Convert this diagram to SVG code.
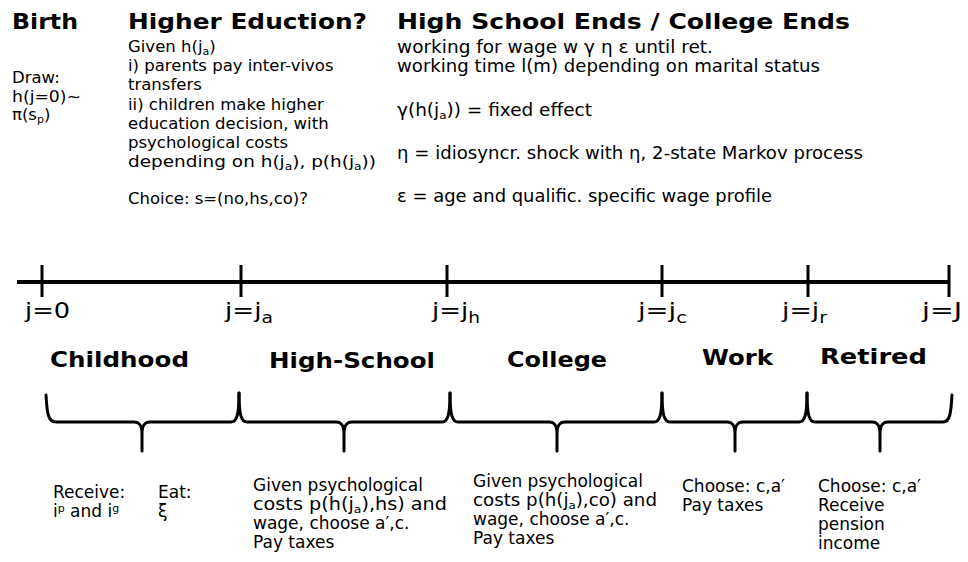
<svg xmlns="http://www.w3.org/2000/svg" width="968" height="562" viewBox="0 0 968 562">
<style>
text{font-family:"DejaVu Sans",Verdana,sans-serif;fill:#000}
.h{font-weight:bold;font-size:22px}
.t{font-size:16.5px}
.r{font-size:17px}
.b{font-size:17px}
.j{font-size:21px}
.s{font-size:11px}
.sj{font-size:15px}
.axis{stroke:#000;stroke-width:4;fill:none}
.tick{stroke:#000;stroke-width:3;fill:none}
.brace{stroke:#000;stroke-width:3;fill:none;stroke-linejoin:round;stroke-linecap:round}
</style>
<rect width="968" height="562" fill="#fff"/>

<g id="birth">
<text class="h" x="12" y="29" textLength="66" lengthAdjust="spacingAndGlyphs">Birth</text>
<text class="t" x="12" y="83">Draw:</text>
<text class="t" x="12" y="102" textLength="69" lengthAdjust="spacingAndGlyphs">h(j=0)~</text>
<text class="t" x="12" y="120">π(s<tspan class="s" dy="3">p</tspan><tspan dy="-3">)</tspan></text>
</g>

<g id="higher-education">
<text class="h" x="128" y="29" textLength="239" lengthAdjust="spacingAndGlyphs">Higher Eduction?</text>
<text class="t" x="128" y="52">Given h(j<tspan class="s" dy="3">a</tspan><tspan dy="-3">)</tspan></text>
<text class="t" x="128" y="71">i) parents pay inter-vivos</text>
<text class="t" x="128" y="90">transfers</text>
<text class="t" x="128" y="110">ii) children make higher</text>
<text class="t" x="128" y="129">education decision, with</text>
<text class="t" x="128" y="148">psychological costs</text>
<text class="t" x="128" y="167" textLength="248" lengthAdjust="spacingAndGlyphs">depending on h(j<tspan class="s" dy="3">a</tspan><tspan dy="-3">), p(h(j</tspan><tspan class="s" dy="3">a</tspan><tspan dy="-3">))</tspan></text>
<text class="t" x="128" y="204">Choice: s=(no,hs,co)?</text>
</g>

<g id="work-begins">
<text class="h" x="397" y="29" textLength="453" lengthAdjust="spacingAndGlyphs">High School Ends / College Ends</text>
<text class="r" x="397" y="53" textLength="316" lengthAdjust="spacingAndGlyphs">working for wage w γ η ε until ret.</text>
<text class="r" x="397" y="72" textLength="423" lengthAdjust="spacingAndGlyphs">working time l(m) depending on marital status</text>
<text class="r" x="397" y="116" textLength="195" lengthAdjust="spacingAndGlyphs">γ(h(j<tspan class="s" dy="3">a</tspan><tspan dy="-3">)) = fixed effect</tspan></text>
<text class="r" x="397" y="159" textLength="466" lengthAdjust="spacingAndGlyphs">η = idiosyncr. shock with η, 2-state Markov process</text>
<text class="r" x="397" y="202" textLength="375" lengthAdjust="spacingAndGlyphs">ε = age and qualific. specific wage profile</text>
</g>

<g id="connectors">
<path class="axis" d="M17,282 L949,282"/>
<path class="tick" d="M42,265 V297 M241,265 V297 M447,265 V297 M662,265 V297 M808,265 V297 M949,265 V297"/>
</g>

<g id="ages">
<text class="j" x="25" y="318" textLength="45" lengthAdjust="spacingAndGlyphs">j=0</text>
<text class="j" x="225" y="318" textLength="48" lengthAdjust="spacingAndGlyphs">j=j<tspan class="sj" dy="5">a</tspan></text>
<text class="j" x="432" y="318" textLength="48" lengthAdjust="spacingAndGlyphs">j=j<tspan class="sj" dy="5">h</tspan></text>
<text class="j" x="638" y="318" textLength="49" lengthAdjust="spacingAndGlyphs">j=j<tspan class="sj" dy="5">c</tspan></text>
<text class="j" x="782" y="318" textLength="45" lengthAdjust="spacingAndGlyphs">j=j<tspan class="sj" dy="5">r</tspan></text>
<text class="j" x="922" y="318" textLength="40" lengthAdjust="spacingAndGlyphs">j=J</text>
</g>

<g id="childhood">
<text class="h" x="50" y="367" textLength="139" lengthAdjust="spacingAndGlyphs">Childhood</text>
<path class="brace" d="M46,395 C47,413 48,422 56,422 L134,422 C140,422 142,426 142,434 L142,451 M142,434 C142,426 144,422 150,422 L231,422 C237,422 239,414 239,393"/>
<text class="b" x="53" y="498">Receive:</text>
<text class="b" x="53" y="517">i<tspan class="s" dy="-5">p</tspan><tspan dy="5"> and i</tspan><tspan class="s" dy="-5">g</tspan></text>
<text class="b" x="158" y="498">Eat:</text>
<text class="b" x="158" y="517">ξ</text>
</g>

<g id="high-school">
<text class="h" x="269" y="368" textLength="166" lengthAdjust="spacingAndGlyphs">High-School</text>
<path class="brace" d="M239,393 C239,414 241,422 247,422 L336,422 C342,422 344,426 344,434 L344,451 M344,434 C344,426 346,422 352,422 L442,422 C448,422 450,414 450,393"/>
<text class="b" x="253" y="491">Given psychological</text>
<text class="b" x="253" y="510" textLength="194" lengthAdjust="spacingAndGlyphs">costs p(h(j<tspan class="s" dy="3">a</tspan><tspan dy="-3">),hs) and</tspan></text>
<text class="b" x="253" y="529">wage, choose a′,c.</text>
<text class="b" x="253" y="548">Pay taxes</text>
</g>

<g id="college">
<text class="h" x="507" y="367" textLength="100" lengthAdjust="spacingAndGlyphs">College</text>
<path class="brace" d="M450,393 C450,414 452,422 458,422 L549,422 C555,422 557,426 557,434 L557,451 M557,434 C557,426 559,422 565,422 L654,422 C660,422 662,414 662,393"/>
<text class="b" x="473" y="487">Given psychological</text>
<text class="b" x="473" y="506" textLength="184" lengthAdjust="spacingAndGlyphs">costs p(h(j<tspan class="s" dy="3">a</tspan><tspan dy="-3">),co) and</tspan></text>
<text class="b" x="473" y="525">wage, choose a′,c.</text>
<text class="b" x="473" y="544">Pay taxes</text>
</g>

<g id="work">
<text class="h" x="702" y="365" textLength="71" lengthAdjust="spacingAndGlyphs">Work</text>
<path class="brace" d="M662,393 C662,414 664,422 670,422 L727,422 C733,422 735,426 735,434 L735,451 M735,434 C735,426 737,422 743,422 L799,422 C805,422 807,414 807,393"/>
<text class="b" x="682" y="492">Choose: c,a′</text>
<text class="b" x="682" y="511">Pay taxes</text>
</g>

<g id="retired">
<text class="h" x="820" y="364" textLength="107" lengthAdjust="spacingAndGlyphs">Retired</text>
<path class="brace" d="M807,393 C807,414 809,422 815,422 L872,422 C878,422 880,426 880,434 L880,451 M880,434 C880,426 882,422 888,422 L943,422 C950,422 951,413 952,395"/>
<text class="b" x="818" y="492">Choose: c,a′</text>
<text class="b" x="818" y="511">Receive</text>
<text class="b" x="818" y="530">pension</text>
<text class="b" x="818" y="549">income</text>
</g>
</svg>
